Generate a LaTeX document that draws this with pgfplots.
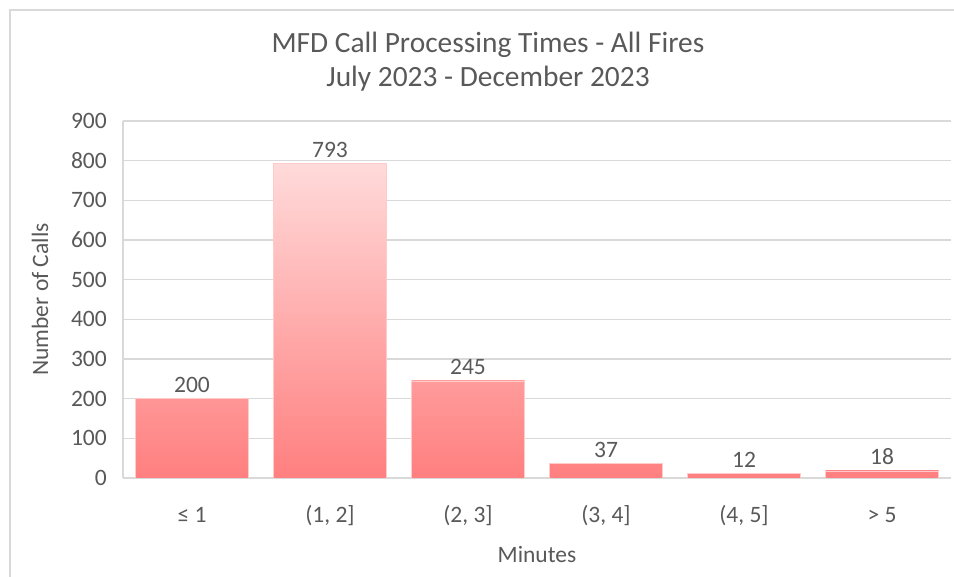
\documentclass[border=0pt]{standalone}
\usepackage{pgfplots}
\pgfplotsset{compat=1.18}
\usepackage{fontspec}
\setmainfont{Carlito}

\definecolor{txt}{HTML}{595959}
\definecolor{gridc}{HTML}{D9D9D9}
\definecolor{barlo}{HTML}{FF7F7F}
\definecolor{barhi}{HTML}{FFDADA}
\definecolor{baredge}{HTML}{FFCACA}

\pgfplotsset{
  % one bar, shaded from the axis at 0 up to a colour that depends on its height
  mybar/.style={ybar, bar width=113bp, bar shift=0pt, draw=baredge, line width=0.4bp,
    bottom color=barlo, top color=barhi!#1!barlo},
}

\begin{document}
\begin{tikzpicture}[x=1bp,y=1bp]
\begin{axis}[
  scale only axis, width=828bp, height=357bp,
  xmin=-0.5, xmax=5.5, ymin=0, ymax=900,
  ytick={0,100,...,900},
  xtick={0,...,5},
  xticklabels={{≤ 1},{(1, 2]},{(2, 3]},{(3, 4]},{(4, 5]},{> 5}},
  axis lines=left,
  axis line style={gridc, line width=1.2bp, -},
  ymajorgrids, grid style={gridc, line width=1.2bp},
  major tick length=0pt,
  /pgf/number format/assume math mode=true,
  tick label style={txt, font=\fontsize{23.5bp}{28bp}\selectfont, inner sep=0pt},
  yticklabel style={anchor=east, xshift=-16bp},
  xticklabel style={anchor=base, yshift=-44.5bp},
  xlabel={Minutes}, ylabel={Number of Calls},
  label style={txt, font=\fontsize{23.5bp}{28bp}\selectfont},
  xlabel style={at={(rel axis cs:0.5,0)}, anchor=center, yshift=-77bp},
  ylabel style={at={(rel axis cs:0,0.5)}, anchor=center, yshift=83bp},
  nodes near coords,
  every node near coord/.append style={txt, font=\fontsize{23.5bp}{28bp}\selectfont,
    anchor=south, inner sep=0pt, yshift=5.5bp,
    /pgf/number format/assume math mode=true},
]
\addplot[mybar=25.2] coordinates {(0,200)};
\addplot[mybar=100]  coordinates {(1,793)};
\addplot[mybar=30.9] coordinates {(2,245)};
\addplot[mybar=4.7]  coordinates {(3,37)};
\addplot[mybar=1.5]  coordinates {(4,12)};
\addplot[mybar=2.3]  coordinates {(5,18)};
\coordinate (O) at (rel axis cs:0,0);
\end{axis}
\pgfresetboundingbox
\begin{scope}[shift={(O)}, xshift=-123bp, yshift=-99bp]
\useasboundingbox (0,0) rectangle (954,577);
\draw[gridc, line width=1.5bp] (10,0) -- (10,567) -- (960,567);
\node[txt, align=center, font=\fontsize{29.4bp}{34bp}\selectfont] at (488,515)
  {MFD Call Processing Times - All Fires\\July 2023 - December 2023};
\end{scope}
\end{tikzpicture}
\end{document}
